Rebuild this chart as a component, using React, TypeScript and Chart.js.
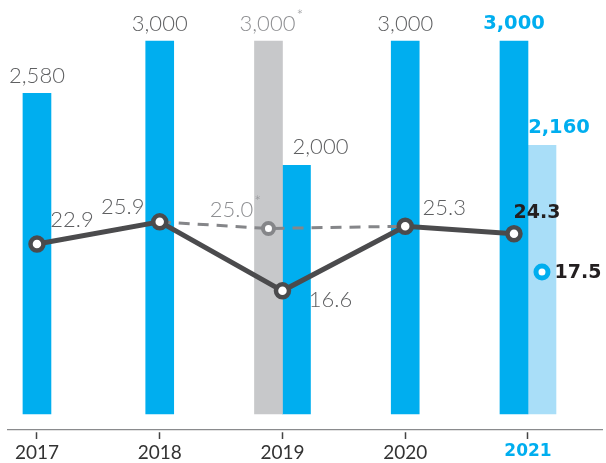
import React, { useEffect, useRef } from 'react';
import { Chart, registerables } from 'chart.js';

Chart.register(...registerables);

// ---------- data ----------
const years = [2017, 2018, 2019, 2020, 2021];
// first (left / only) bar of each year
const capacityFirst = [2580, 3000, 3000, 3000, 3000];
// second (right) bar of each year
const capacitySecond: (number | null)[] = [null, null, 2000, null, 2160];
// main line
const ratioMain = [22.9, 25.9, 16.6, 25.3, 24.3];
// dashed comparison line
const dashedYears = [2018, 2019, 2020];
const ratioDashed = [25.9, 25.0, 25.3];
// single extra point
const extraYears = [2021];
const ratioExtra = [17.5];

// ---------- styling / layout ----------
const BLUE = '#00AEEF';
const LIGHT_BLUE = '#A9DEF8';
const GRAY_BAR = '#C7C8CA';
const LINE_DARK = '#4B4B4D';
const DASH_GRAY = '#858689';
const TEXT_GRAY = '#5E5F61';
const TEXT_LIGHT = '#8E8F92';
const TEXT_DARK = '#231F20';
const FONT = 'Lato, "Open Sans", sans-serif';
const BOLD_FONT = '"DejaVu Sans", Lato, sans-serif';
const BAR_PX = 28;
const PX_PER_YEAR = 122.75;
const SLOT = BAR_PX / 2 / PX_PER_YEAR; // half a bar, in year units

const firstColors = [BLUE, BLUE, GRAY_BAR, BLUE, BLUE];
const secondColors = [BLUE, BLUE, BLUE, BLUE, LIGHT_BLUE];
const mainSlots = [0, 0, 0, 0, -1];
const dashedSlots = [0, -1, 0];
const extraSlots = [1];

const fmt = (v: number) => v.toLocaleString('en-US');
const light = (s: number) => `300 ${s}px ${FONT}`;
const bold = (s: number) => `700 ${s}px ${BOLD_FONT}`;

type LabelSpec = {
  ds: number; i: number; text: string; dx: number; dy: number;
  font: string; color: string; star?: boolean;
};

const labelItems: LabelSpec[] = [
  { ds: 0, i: 0, text: fmt(capacityFirst[0]), dx: 0, dy: -17, font: light(22), color: TEXT_GRAY },
  { ds: 0, i: 1, text: fmt(capacityFirst[1]), dx: 0, dy: -17, font: light(22), color: TEXT_GRAY },
  { ds: 0, i: 2, text: fmt(capacityFirst[2]), dx: -1, dy: -17, font: light(22), color: TEXT_LIGHT, star: true },
  { ds: 0, i: 3, text: fmt(capacityFirst[3]), dx: 0, dy: -17, font: light(22), color: TEXT_GRAY },
  { ds: 0, i: 4, text: fmt(capacityFirst[4]), dx: 0, dy: -17, font: bold(19.5), color: BLUE },
  { ds: 1, i: 2, text: fmt(capacitySecond[2] as number), dx: 24, dy: -18, font: light(22), color: TEXT_GRAY },
  { ds: 1, i: 4, text: fmt(capacitySecond[4] as number), dx: 17, dy: -18, font: bold(19.5), color: BLUE },
  { ds: 3, i: 0, text: ratioMain[0].toFixed(1), dx: 35, dy: -24, font: light(22), color: TEXT_GRAY },
  { ds: 3, i: 1, text: ratioMain[1].toFixed(1), dx: -37, dy: -15, font: light(22), color: TEXT_GRAY },
  { ds: 3, i: 2, text: ratioMain[2].toFixed(1), dx: 48, dy: 9, font: light(22), color: TEXT_GRAY },
  { ds: 3, i: 3, text: ratioMain[3].toFixed(1), dx: 39, dy: -18, font: light(22), color: TEXT_GRAY },
  { ds: 3, i: 4, text: ratioMain[4].toFixed(1), dx: 23, dy: -21, font: bold(19), color: TEXT_DARK },
  { ds: 2, i: 1, text: ratioDashed[1].toFixed(1), dx: -37, dy: -19, font: light(22), color: TEXT_LIGHT, star: true },
  { ds: 4, i: 0, text: ratioExtra[0].toFixed(1), dx: 36, dy: 1, font: bold(19), color: TEXT_DARK },
];

const labelPlugin = {
  id: 'valueLabels',
  afterDatasetsDraw(chart: any) {
    const ctx = chart.ctx as CanvasRenderingContext2D;
    for (const s of labelItems) {
      const el = chart.getDatasetMeta(s.ds).data[s.i];
      if (!el) continue;
      const { x, y } = el.getProps(['x', 'y'], true);
      const tx = x + s.dx;
      const ty = y + s.dy;
      ctx.save();
      ctx.font = s.font;
      ctx.fillStyle = s.color;
      ctx.textAlign = 'center';
      ctx.textBaseline = 'middle';
      ctx.fillText(s.text, tx, ty);
      if (s.star) {
        const w = ctx.measureText(s.text).width;
        ctx.font = light(16);
        ctx.textAlign = 'left';
        ctx.fillText('*', tx + w / 2 + 1, ty - 8);
      }
      ctx.restore();
    }
  },
};

export default function App() {
  const ref = useRef<HTMLCanvasElement>(null);

  useEffect(() => {
    if (!ref.current) return;
    const chart = new Chart(ref.current, {
      type: 'bar',
      data: {
        datasets: [
          {
            type: 'bar',
            label: 'Capacity',
            data: years.map((x, i) => ({ x, y: capacityFirst[i] })),
            backgroundColor: firstColors,
            barThickness: BAR_PX,
            skipNull: true,
            grouped: true,
            yAxisID: 'y',
            order: 3,
          },
          {
            type: 'bar',
            label: 'Capacity (2)',
            data: years.map((x, i) => ({ x, y: capacitySecond[i] })),
            backgroundColor: secondColors,
            barThickness: BAR_PX,
            skipNull: true,
            grouped: true,
            yAxisID: 'y',
            order: 3,
          },
          {
            type: 'line',
            label: 'Dashed',
            data: dashedYears.map((x, i) => ({ x: x + dashedSlots[i] * SLOT, y: ratioDashed[i] })),
            borderColor: DASH_GRAY,
            borderWidth: 3,
            borderDash: [11, 8],
            pointRadius: [0, 5.5, 0],
            pointBorderWidth: 4,
            pointBorderColor: DASH_GRAY,
            pointBackgroundColor: '#ffffff',
            yAxisID: 'y2',
            order: 2,
          },
          {
            type: 'line',
            label: 'Ratio',
            data: years.map((x, i) => ({ x: x + mainSlots[i] * SLOT, y: ratioMain[i] })),
            borderColor: LINE_DARK,
            borderWidth: 5,
            pointRadius: 6.5,
            pointBorderWidth: 4.5,
            pointBorderColor: LINE_DARK,
            pointBackgroundColor: '#ffffff',
            yAxisID: 'y2',
            order: 1,
          },
          {
            type: 'line',
            label: 'Extra',
            data: extraYears.map((x, i) => ({ x: x + extraSlots[i] * SLOT, y: ratioExtra[i] })),
            showLine: false,
            pointRadius: 6,
            pointBorderWidth: 5,
            pointBorderColor: BLUE,
            pointBackgroundColor: '#ffffff',
            yAxisID: 'y3',
            order: 0,
          },
        ] as any,
      },
      options: {
        responsive: false,
        animation: false,
        events: [],
        layout: { autoPadding: false, padding: { left: 8, right: 4, top: 0, bottom: 0 } },
        plugins: { legend: { display: false }, tooltip: { enabled: false } },
        scales: {
          x: {
            type: 'linear',
            min: 2016.764,
            max: 2021.603,
            offset: false,
            afterBuildTicks: (s: any) => { s.ticks = years.map((v) => ({ value: v })); },
            afterFit: (s: any) => { s.height = 33; },
            border: { display: true, color: '#8A8B8D', width: 1.2 },
            grid: {
              offset: false,
              drawOnChartArea: false,
              drawTicks: true,
              tickLength: 9,
              tickColor: '#444444',
              tickWidth: 1.5,
              tickBorderDash: [0, 2, 7, 20],
            },
            ticks: {
              padding: 2,
              autoSkip: false,
              maxRotation: 0,
              callback: (v: any) => String(v),
              color: (c: any) => (c.tick && c.tick.value === 2021 ? BLUE : '#333333'),
              font: (c: any) => (c.tick && c.tick.value === 2021
                ? { family: BOLD_FONT, size: 17, weight: 'bold' }
                : { family: FONT, size: 19, weight: 'normal' }),
            },
          },
          y: { display: false, min: -128.7, max: 3329.8 },
          y2: { display: false, min: -2.16, max: 55.8 },
          y3: { display: false, min: -1.97, max: 51.05 },
        } as any,
      },
      plugins: [labelPlugin],
    });
    return () => chart.destroy();
  }, []);

  return (
    <canvas
      ref={ref}
      width={606}
      height={463}
      style={{ position: 'fixed', left: 0, top: 0 }}
    />
  );
}
